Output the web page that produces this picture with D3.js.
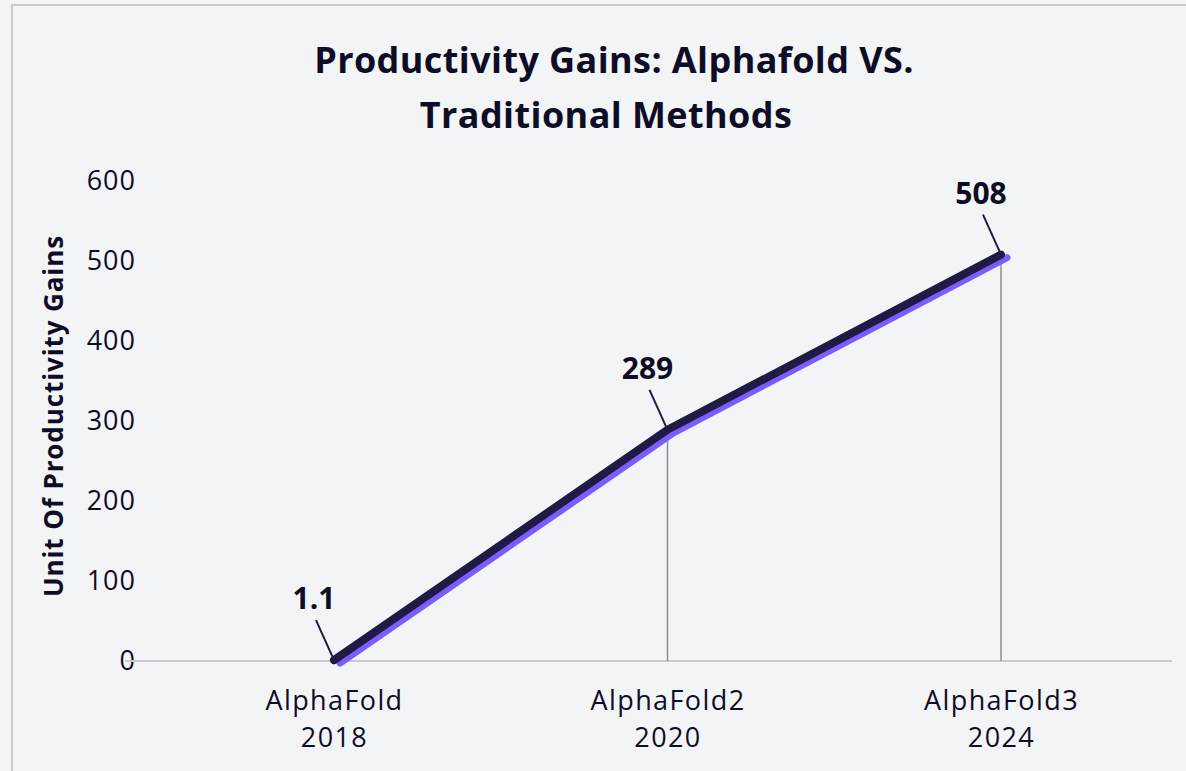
<!DOCTYPE html>
<html>
<head>
<meta charset="utf-8">
<script src="https://cdn.jsdelivr.net/npm/d3@7"></script>
<style>
  body { margin: 0; background: #f3f4f6; }
  svg { display: block; font-family: "Open Sans", Lato, sans-serif; }
</style>
</head>
<body>
<div id="chart"></div>
<script>
// chart data
var models = ["AlphaFold", "AlphaFold2", "AlphaFold3"];
var years = ["2018", "2020", "2024"];
var gains = [1.1, 289, 508];
var labels = ["1.1", "289", "508"];
var yTicks = [0, 100, 200, 300, 400, 500, 600];

var width = 1186, height = 771;
var ink = "#0e0d26", navy = "#1f1b45", purple = "#7c5cff";
var font = "'Open Sans', sans-serif";

var svg = d3.select("#chart").append("svg")
  .attr("width", width)
  .attr("height", height);

// frame
svg.append("rect")
  .attr("x", 12).attr("y", 5)
  .attr("width", 1200).attr("height", 800)
  .attr("fill", "#f3f4f6")
  .attr("stroke", "#c9cad0")
  .attr("stroke-width", 2);

// title
svg.append("text")
  .attr("x", 614).attr("y", 73)
  .attr("text-anchor", "middle")
  .attr("font-size", 36).attr("font-weight", 700).attr("fill", ink)
  .attr("letter-spacing", 0.4)
  .text("Productivity Gains: Alphafold VS.");
svg.append("text")
  .attr("x", 606).attr("y", 128)
  .attr("text-anchor", "middle")
  .attr("font-size", 36).attr("font-weight", 700).attr("fill", ink)
  .attr("letter-spacing", 0.4)
  .text("Traditional Methods");

var data = models.map(function(m, i) {
  return {model: m, year: years[i], value: gains[i], label: labels[i]};
});

var x = d3.scalePoint().domain(models).range([334, 1001]);
var y = d3.scaleLinear().domain([0, 600]).range([661, 181]);

// y axis labels
var yAxis = svg.append("g")
  .attr("transform", "translate(136,0)")
  .call(d3.axisLeft(y).tickValues(yTicks).tickSize(0).tickPadding(0));
yAxis.select(".domain").remove();
yAxis.selectAll("text")
  .attr("font-size", 27).attr("fill", ink)
  .attr("font-family", font)
  .attr("letter-spacing", 1);

// baseline
svg.append("line")
  .attr("x1", 125).attr("x2", 1172)
  .attr("y1", y(0)).attr("y2", y(0))
  .attr("stroke", "#c9cad0").attr("stroke-width", 2);

// x axis labels
var xAxis = svg.append("g")
  .attr("transform", "translate(0," + y(0) + ")")
  .call(d3.axisBottom(x).tickSize(0).tickPadding(0));
xAxis.select(".domain").remove();
xAxis.selectAll(".tick text").each(function(d, i) {
  var t = d3.select(this).text("")
    .attr("font-size", 27).attr("fill", ink)
    .attr("font-family", font)
    .attr("letter-spacing", 1.4)
    .attr("y", 0).attr("dy", null);
  t.append("tspan").attr("x", 0).attr("y", 49).text(d);
  t.append("tspan").attr("x", 0).attr("y", 86).text(years[i]);
});

// y axis title
svg.append("text")
  .attr("transform", "translate(63,416) rotate(-90)")
  .attr("text-anchor", "middle")
  .attr("font-size", 26).attr("font-weight", 700).attr("fill", ink)
  .attr("letter-spacing", 0.9)
  .text("Unit Of Productivity Gains");

// drop lines
svg.selectAll(".drop").data(data).enter().append("line")
  .attr("class", "drop")
  .attr("x1", function(d) { return x(d.model); })
  .attr("x2", function(d) { return x(d.model); })
  .attr("y1", function(d) { return y(d.value); })
  .attr("y2", y(0))
  .attr("stroke", "#8b8c96").attr("stroke-width", 1.5);

var line = d3.line()
  .x(function(d) { return x(d.model); })
  .y(function(d) { return y(d.value); });

// purple shadow then navy line
svg.append("path").datum(data)
  .attr("d", line)
  .attr("transform", "translate(6,3)")
  .attr("fill", "none").attr("stroke", purple)
  .attr("stroke-width", 7).attr("stroke-linecap", "round").attr("stroke-linejoin", "round");
svg.append("path").datum(data)
  .attr("d", line)
  .attr("fill", "none").attr("stroke", navy)
  .attr("stroke-width", 8).attr("stroke-linecap", "round").attr("stroke-linejoin", "round");

// value labels with leader lines
svg.selectAll(".leader").data(data).enter().append("line")
  .attr("class", "leader")
  .attr("x1", function(d) { return x(d.model); })
  .attr("y1", function(d) { return y(d.value); })
  .attr("x2", function(d) { return x(d.model) - 18; })
  .attr("y2", function(d) { return y(d.value) - 40; })
  .attr("stroke", navy).attr("stroke-width", 2);

svg.selectAll(".vlabel").data(data).enter().append("text")
  .attr("class", "vlabel")
  .attr("x", function(d) { return x(d.model) - 20; })
  .attr("y", function(d) { return y(d.value) - 51; })
  .attr("text-anchor", "middle")
  .attr("font-size", 30).attr("font-weight", 700).attr("fill", ink)
  .text(function(d) { return d.label; });
</script>
</body>
</html>
